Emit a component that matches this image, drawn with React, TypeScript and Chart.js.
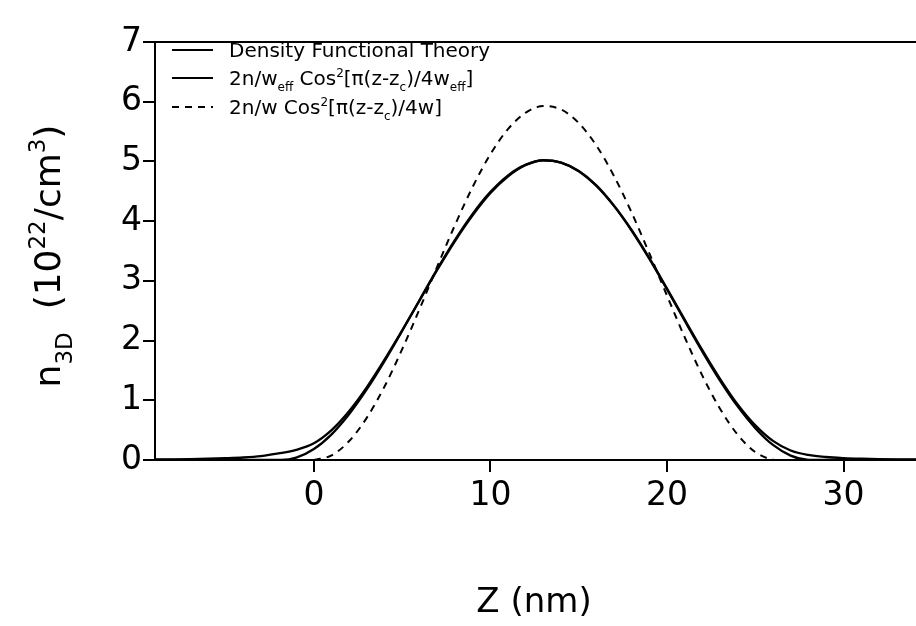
import React, { useEffect, useRef } from "react";
import { Chart, registerables } from "chart.js";

Chart.register(...registerables);

const FONT = "'DejaVu Sans', sans-serif";

// Density Functional Theory curve
const zDft = [-9, -8, -7, -6, -5, -4, -3, -2, -1, 0, 1, 2, 3, 4, 5, 6, 7, 8, 9, 10, 11, 12, 13, 14, 15, 16, 17, 18, 19, 20, 21, 22, 23, 24, 25, 26, 27, 28, 29, 30, 31, 32, 33, 34.1];
const nDft = [0.01, 0.012, 0.016, 0.022, 0.03, 0.042, 0.065, 0.11, 0.17, 0.28, 0.5, 0.82, 1.22, 1.68, 2.17, 2.68, 3.19, 3.67, 4.1, 4.47, 4.75, 4.94, 5.02, 4.98, 4.84, 4.6, 4.26, 3.85, 3.38, 2.87, 2.35, 1.84, 1.36, 0.93, 0.58, 0.32, 0.16, 0.085, 0.05, 0.032, 0.022, 0.016, 0.012, 0.01];

// 2n/w_eff Cos^2 curve
const zEff = [-9, -1.84, -1, 0, 1, 2, 3, 4, 5, 6, 7, 8, 9, 10, 11, 12, 13, 14, 15, 16, 17, 18, 19, 20, 21, 22, 23, 24, 25, 26, 27, 28, 28.16, 34.1];
const nEff = [0, 0, 0.039, 0.184, 0.43, 0.77, 1.186, 1.657, 2.164, 2.688, 3.205, 3.691, 4.126, 4.49, 4.767, 4.946, 5.019, 4.981, 4.836, 4.589, 4.251, 3.837, 3.366, 2.856, 2.332, 1.816, 1.33, 0.897, 0.533, 0.252, 0.074, 0.001, 0, 0];

// 2n/w Cos^2 curve (dashed)
const zW = [0, 1, 2, 3, 4, 5, 6, 7, 8, 9, 10, 11, 12, 13, 14, 15, 16, 17, 18, 19, 20, 21, 22, 23, 24, 25, 26, 26.25];
const nW = [0, 0.077, 0.318, 0.71, 1.231, 1.856, 2.539, 3.25, 3.942, 4.579, 5.123, 5.545, 5.818, 5.928, 5.869, 5.643, 5.264, 4.753, 4.14, 3.459, 2.752, 2.056, 1.413, 0.859, 0.423, 0.132, 0.005, 0];

const xTicks = [0, 10, 20, 30];
const yTicks = [0, 1, 2, 3, 4, 5, 6, 7];
const X_MIN = -9;
const X_MAX = 34.1;
const Y_MIN = 0;
const Y_MAX = 7;

type Seg = { t: string; k: "n" | "sub" | "sup" };

const legendRows: { dash: number[]; segs: Seg[] }[] = [
  { dash: [], segs: [{ t: "Density Functional Theory", k: "n" }] },
  {
    dash: [],
    segs: [
      { t: "2n/w", k: "n" },
      { t: "eff", k: "sub" },
      { t: " Cos", k: "n" },
      { t: "2", k: "sup" },
      { t: "[\u03c0(z-z", k: "n" },
      { t: "c", k: "sub" },
      { t: ")/4w", k: "n" },
      { t: "eff", k: "sub" },
      { t: "]", k: "n" },
    ],
  },
  {
    dash: [7, 6],
    segs: [
      { t: "2n/w Cos", k: "n" },
      { t: "2", k: "sup" },
      { t: "[\u03c0(z-z", k: "n" },
      { t: "c", k: "sub" },
      { t: ")/4w]", k: "n" },
    ],
  },
];

const yTitle: Seg[] = [
  { t: "n", k: "n" },
  { t: "3D", k: "sub" },
  { t: "  (10", k: "n" },
  { t: "22", k: "sup" },
  { t: "/cm", k: "n" },
  { t: "3", k: "sup" },
  { t: ")", k: "n" },
];

function pts(xs: number[], ys: number[]) {
  return xs.map((x, i) => ({ x, y: ys[i] }));
}

function drawRich(ctx: CanvasRenderingContext2D, segs: Seg[], x: number, y: number, size: number, small: number, draw: boolean) {
  let cx = x;
  for (const s of segs) {
    const fs = s.k === "n" ? size : small;
    ctx.font = `${fs}px ${FONT}`;
    const dy = s.k === "sub" ? size * 0.32 : s.k === "sup" ? -size * 0.42 : 0;
    if (draw) ctx.fillText(s.t, cx, y + dy);
    cx += ctx.measureText(s.t).width;
  }
  return cx - x;
}

const decorPlugin = {
  id: "decor",
  afterDraw(chart: any) {
    const ctx: CanvasRenderingContext2D = chart.ctx;
    const a = chart.chartArea;
    ctx.save();
    // top frame line
    ctx.strokeStyle = "#000";
    ctx.lineWidth = 2;
    ctx.beginPath();
    ctx.moveTo(a.left, a.top);
    ctx.lineTo(a.right, a.top);
    ctx.stroke();

    // legend
    ctx.fillStyle = "#000";
    ctx.textBaseline = "alphabetic";
    ctx.textAlign = "left";
    const rowsY = [50, 78, 107];
    legendRows.forEach((r, i) => {
      const y = rowsY[i];
      ctx.setLineDash(r.dash);
      ctx.lineWidth = 2;
      ctx.beginPath();
      ctx.moveTo(172, y);
      ctx.lineTo(213, y);
      ctx.stroke();
      ctx.setLineDash([]);
      drawRich(ctx, r.segs, 229, y + 7, 20, 12, true);
    });

    // y axis title (rotated)
    ctx.save();
    ctx.translate(60, 256);
    ctx.rotate(-Math.PI / 2);
    const w = drawRich(ctx, yTitle, 0, 0, 36, 23, false);
    drawRich(ctx, yTitle, -w / 2, 0, 36, 23, true);
    ctx.restore();

    // x axis title
    ctx.font = `34px ${FONT}`;
    ctx.textAlign = "center";
    ctx.fillText("Z (nm)", 534, 612);
    ctx.restore();
  },
};

export default function App() {
  const ref = useRef<HTMLCanvasElement>(null);
  useEffect(() => {
    if (!ref.current) return;
    const chart = new Chart(ref.current, {
      type: "scatter",
      data: {
        datasets: [
          { data: pts(zDft, nDft), showLine: true, borderColor: "#000", borderWidth: 2.3, pointRadius: 0, cubicInterpolationMode: "monotone" },
          { data: pts(zEff, nEff), showLine: true, borderColor: "#000", borderWidth: 2.3, pointRadius: 0, cubicInterpolationMode: "monotone" },
          { data: pts(zW, nW), showLine: true, borderColor: "#000", borderWidth: 2, borderDash: [7, 6], pointRadius: 0, cubicInterpolationMode: "monotone" },
        ],
      },
      options: {
        animation: false,
        responsive: false,
        events: [],
        layout: { padding: { top: 42, right: 0, bottom: 0, left: 0 } },
        plugins: { legend: { display: false }, tooltip: { enabled: false }, title: { display: false } },
        scales: {
          x: {
            type: "linear",
            min: X_MIN,
            max: X_MAX,
            afterBuildTicks: (s: any) => {
              s.ticks = xTicks.map((v) => ({ value: v }));
            },
            ticks: { font: { family: FONT, size: 33 }, color: "#000", padding: 5, maxRotation: 0, autoSkip: false },
            grid: { display: true, drawOnChartArea: false, drawTicks: true, tickLength: 12, color: "#000", lineWidth: 2 },
            border: { display: true, color: "#000", width: 2 },
            afterFit: (s: any) => {
              s.height = 166;
              s.paddingLeft = 0;
              s.paddingRight = 0;
            },
          },
          y: {
            type: "linear",
            min: Y_MIN,
            max: Y_MAX,
            afterBuildTicks: (s: any) => {
              s.ticks = yTicks.map((v) => ({ value: v }));
            },
            ticks: { font: { family: FONT, size: 33 }, color: "#000", padding: 1, autoSkip: false },
            grid: { display: true, drawOnChartArea: false, drawTicks: true, tickLength: 12, color: "#000", lineWidth: 2 },
            border: { display: true, color: "#000", width: 2 },
            afterFit: (s: any) => {
              s.width = 155;
              s.paddingTop = 0;
              s.paddingBottom = 0;
            },
          },
        },
      },
      plugins: [decorPlugin],
    } as any);
    return () => chart.destroy();
  }, []);
  return (
    <div style={{ position: "absolute", left: 0, top: 0, width: 916, height: 626, background: "#fff" }}>
      <canvas ref={ref} width={916} height={626} style={{ display: "block" }} />
    </div>
  );
}
